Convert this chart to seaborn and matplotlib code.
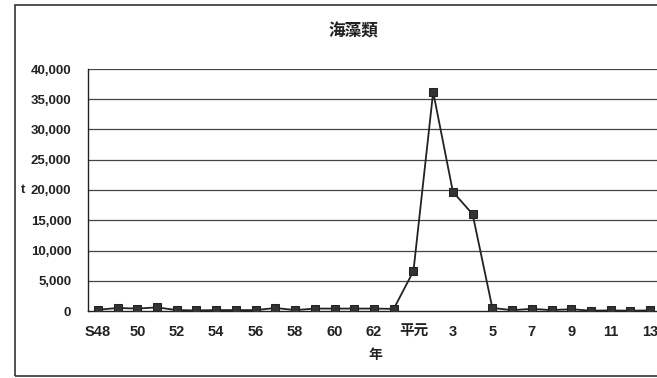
import numpy as np
import pandas as pd
import matplotlib
matplotlib.use("Agg")
import matplotlib.pyplot as plt
from matplotlib.patches import Rectangle
import seaborn as sns

# Annual seaweed catch (t), Showa 48 through Heisei 13
years = ["S48", "49", "50", "51", "52", "53", "54", "55", "56", "57", "58", "59",
         "60", "61", "62", "63", "平元", "2", "3", "4", "5", "6", "7", "8", "9",
         "10", "11", "12", "13"]
catch_t = [200, 500, 400, 600, 150, 100, 150, 150, 150, 500, 150, 400,
           400, 400, 400, 350, 6600, 36200, 19700, 16000, 500, 150, 350, 150,
           300, 50, 100, 50, 100]
title = "海藻類"
y_label = "t"
x_label = "年"
y_ticks = [0, 5000, 10000, 15000, 20000, 25000, 30000, 35000, 40000]

sns.set_theme(style="white")
plt.rcParams["font.family"] = ["Liberation Sans", "Noto Sans CJK JP", "DejaVu Sans"]
plt.rcParams["font.weight"] = "bold"

df = pd.DataFrame({"pos": np.arange(len(years)), "year": years, "catch": catch_t})

fig = plt.figure(figsize=(6.57, 3.78), dpi=100)
fig.patch.set_facecolor("white")

# chart-area border
fig.add_artist(Rectangle((15 / 657, 2 / 378), 1.2, 371 / 378, transform=fig.transFigure,
                         fill=False, edgecolor="#333333", linewidth=1.2))

ax = fig.add_axes([88 / 657, 67 / 378, 572 / 657, 242 / 378])
ax.set_facecolor("white")

for v in y_ticks[1:]:
    ax.axhline(v, color="#444444", linewidth=0.9, zorder=1)

sns.lineplot(data=df, x="pos", y="catch", ax=ax, color="#222222", linewidth=1.3,
             marker="s", markersize=6, markeredgecolor="#222222",
             markerfacecolor="#333333", zorder=3)

ax.set_xlim(-0.5, len(years) - 0.5)
ax.set_ylim(0, 40000)

ax.set_yticks(y_ticks)
ax.set_yticklabels([f"{v:,}" for v in y_ticks], fontsize=9.5, fontweight="bold",
                   color="#222222")
ax.tick_params(axis="y", direction="out", length=4, width=0.8, color="#222222", pad=8)

label_pos = df["pos"][::2]
ax.set_xticks(label_pos)
ax.set_xticklabels(df["year"][::2], fontsize=10.5, fontweight="bold", color="#222222",
                   family=["Liberation Sans", "Noto Sans CJK JP"])
ax.tick_params(axis="x", which="major", length=0, pad=10)
ax.set_xticks(np.arange(-0.5, len(years), 1.0), minor=True)
ax.tick_params(axis="x", which="minor", direction="inout", length=5, width=0.8,
               color="#222222")

for side in ["top", "right"]:
    ax.spines[side].set_visible(False)
for side in ["left", "bottom"]:
    ax.spines[side].set_color("#222222")
    ax.spines[side].set_linewidth(1.0)

ax.set_xlabel("")
ax.set_ylabel("")

fig.text(353 / 657, 1 - 32 / 378, title, ha="center", va="center", fontsize=12,
         fontweight="bold", family=["Noto Sans CJK JP"], color="#222222")
fig.text(23 / 657, 1 - 190 / 378, y_label, ha="center", va="center", fontsize=9.5,
         fontweight="bold", color="#222222")
fig.text(375 / 657, 1 - 355 / 378, x_label, ha="center", va="center", fontsize=10,
         fontweight="bold", family=["Noto Sans CJK JP"], color="#222222")

fig.savefig("out.png", dpi=100)
